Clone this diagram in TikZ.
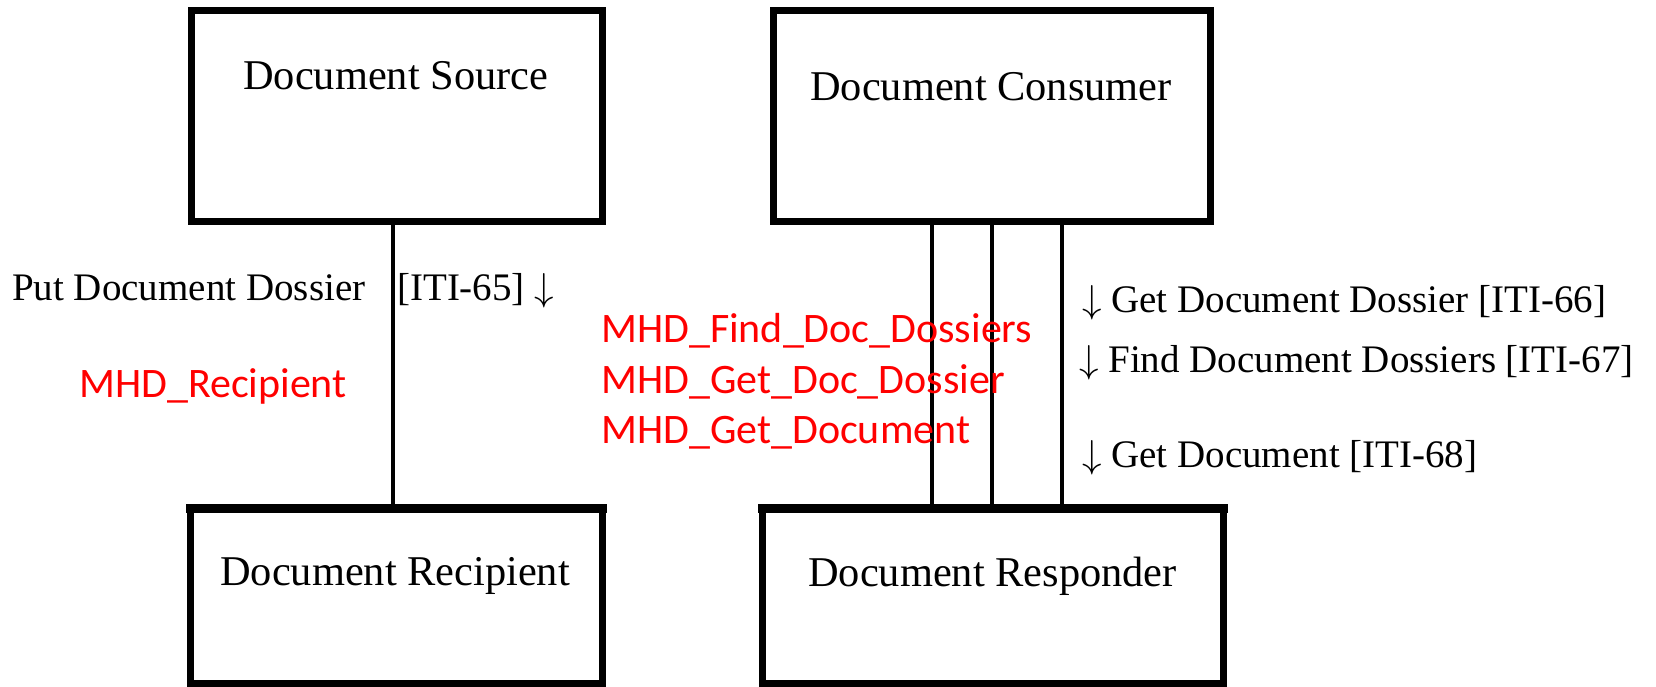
\RequirePackage{fix-cm}
\documentclass[tikz,border=0pt]{standalone}
\usepackage{fontspec}
\setmainfont{Liberation Serif}
\newfontfamily\redfont{Carlito}
\newcommand{\darr}{$\downarrow$}
\begin{document}
\begin{tikzpicture}[x=1pt,y=-1pt,
  box/.style={draw=black,line width=7pt,rectangle,inner sep=0pt,outer sep=0pt,anchor=north west},
  boxtitle/.style={anchor=base west,inner sep=0pt,font=\fontsize{42.4}{50}\selectfont},
  lbl/.style={anchor=base west,inner sep=0pt,font=\fontsize{39}{46}\selectfont},
  redlbl/.style={anchor=base west,inner sep=0pt,text=red,font=\redfont\fontsize{42}{50}\selectfont},
  conn/.style={draw=black,line width=4.5pt}]
\useasboundingbox (0,0) rectangle (1656,686);
% boxes
\node[box,minimum width=411pt,minimum height=210.5pt] (src) at (191,10.5) {};
\node[box,minimum width=437pt,minimum height=210.5pt] (con) at (773,10.5) {};
\node[box,minimum width=412pt,minimum height=175pt] (rec) at (190,508) {};
\node[box,minimum width=461pt,minimum height=175pt] (rsp) at (762,508) {};
% thicker top edges of lower boxes
\draw[line width=9pt,line cap=rect] (rec.north west) -- (rec.north east);
\draw[line width=9pt,line cap=rect] (rsp.north west) -- (rsp.north east);
% titles
\node[boxtitle] (tsrc) at (243,89) {Document Source};
\node[boxtitle] (tcon) at (810,100) {Document Consumer};
\node[boxtitle] (trec) at (220,585) {Document Recipient};
\node[boxtitle] (trsp) at (808,586) {Document Responder};
% connectors
\coordinate (x1) at (393,0);
\coordinate (x2) at (932,0);
\coordinate (x3) at (992,0);
\coordinate (x4) at (1062,0);
\draw[conn] (x1 |- src.south) -- (x1 |- rec.north);
\draw[conn] (x2 |- con.south) -- (x2 |- rsp.north);
\draw[conn] (x3 |- con.south) -- (x3 |- rsp.north);
\draw[conn] (x4 |- con.south) -- (x4 |- rsp.north);
% labels
\node[lbl] (l1) at (12,300) {Put Document Dossier};
\node[lbl] (l2) at (397,300) {[ITI-65] \darr};
\node[lbl] (l3) at (1082,312) {\darr\ Get Document Dossier [ITI-66]};
\node[lbl] (l4) at (1079,372) {\darr\ Find Document Dossiers [ITI-67]};
\node[lbl] (l5) at (1082,467) {\darr\ Get Document [ITI-68]};
% red labels
\node[redlbl] (r0) at (79,397) {MHD\_Recipient};
\node[redlbl] (r1) at (601,342) {MHD\_Find\_Doc\_Dossiers};
\node[redlbl] (r2) at (601,393) {MHD\_Get\_Doc\_Dossier};
\node[redlbl] (r3) at (601,443) {MHD\_Get\_Document};
\end{tikzpicture}
\end{document}
